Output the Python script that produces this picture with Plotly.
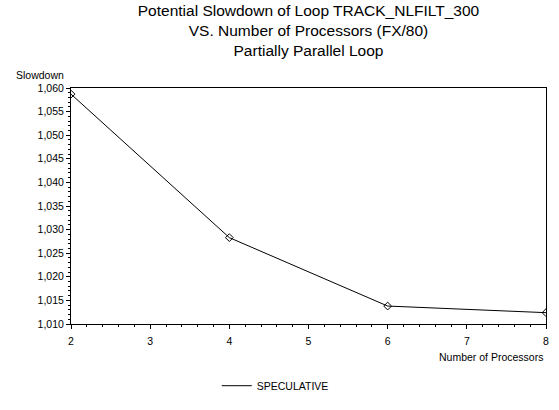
import plotly.graph_objects as go

processors = [2, 4, 6, 8]
slowdown = [1.0587, 1.0283, 1.0138, 1.0124]
series_name = "SPECULATIVE"
title_lines = ["Potential Slowdown of Loop TRACK_NLFILT_300",
               "VS. Number of Processors (FX/80)",
               "Partially Parallel Loop"]
y_ticks = [1.010, 1.015, 1.020, 1.025, 1.030, 1.035, 1.040, 1.045, 1.050, 1.055, 1.060]
x_ticks = [2, 3, 4, 5, 6, 7, 8]

FONT = "Liberation Sans, Arial, sans-serif"

fig = go.Figure()
fig.add_trace(go.Scatter(
    x=processors, y=slowdown, mode="lines+markers",
    line=dict(color="black", width=1),
    marker=dict(symbol="diamond-open", size=6, color="black", line=dict(width=1)),
    showlegend=False, name=series_name))
fig.add_trace(go.Scatter(
    x=[None], y=[None], mode="lines", line=dict(color="black", width=1),
    name=series_name, showlegend=True))

fig.update_layout(
    width=559, height=410,
    margin=dict(l=71, r=10, t=88, b=66),
    paper_bgcolor="white", plot_bgcolor="white",
    font=dict(family=FONT, size=10.5, color="black"),
    separators=", ",
    title=dict(text="<br>".join(title_lines), x=0.5, xanchor="center",
               xref="paper", yref="container",
               y=1 - 16 / 410, yanchor="middle",
               font=dict(family=FONT, size=15.5, color="black")),
    legend=dict(orientation="h", x=0.43, xanchor="center", y=-0.2, yanchor="top",
                font=dict(size=10.5), bgcolor="rgba(0,0,0,0)"),
    xaxis=dict(range=[2, 8], tickvals=x_ticks, showgrid=False, zeroline=False,
               showline=True, linecolor="black", linewidth=1, mirror=True,
               ticks="outside", ticklen=4, tickcolor="black", ticklabelstandoff=3,
               minor=dict(dtick=0.2, ticks="outside", ticklen=2, tickcolor="black", showgrid=False)),
    yaxis=dict(range=[1.010, 1.060], tickvals=y_ticks, tickformat=".3f", showgrid=False,
               zeroline=False, showline=True, linecolor="black", linewidth=1, mirror=True,
               ticks="outside", ticklen=4, tickcolor="black",
               minor=dict(dtick=0.001, ticks="outside", ticklen=2, tickcolor="black", showgrid=False)),
    annotations=[
        dict(text="Slowdown", xref="paper", yref="paper", x=-0.121, y=1.057,
             xanchor="left", yanchor="middle", showarrow=False, font=dict(size=10.5)),
        dict(text="Number of Processors", xref="paper", yref="paper", x=0.997, y=-0.14,
             xanchor="right", yanchor="middle", showarrow=False, font=dict(size=10.5)),
    ],
)

fig.write_html("out.html")
